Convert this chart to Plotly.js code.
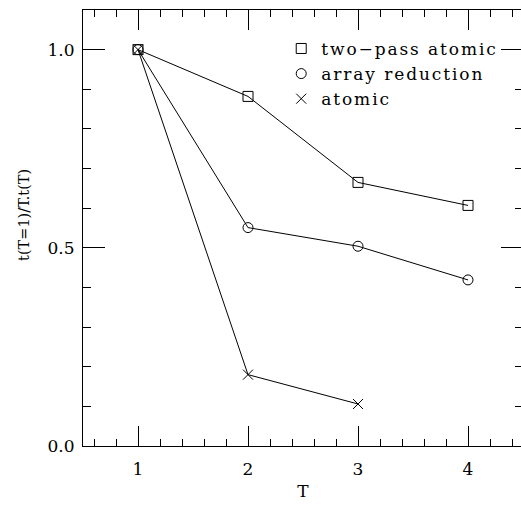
<!DOCTYPE html>
<html><head><meta charset="utf-8">
<script src="https://cdn.plot.ly/plotly-3.0.1.min.js"></script>
<style>html,body{margin:0;padding:0;overflow:hidden;background:#fff}#chart{width:524px;height:507px}
.legendtext{letter-spacing:1.9px}</style>
</head><body><div id="chart"></div>
<script>
const T = [1, 2, 3, 4];
const T_atomic = [1, 2, 3];
const twoPass = [1.0, 0.882, 0.665, 0.607];
const arrayRed = [1.0, 0.551, 0.504, 0.419];
const atomic = [1.0, 0.180, 0.106];
const names = ["two\u2212pass atomic", "array reduction", "atomic"];
const yTicks = [0, 0.5, 1.0];
const yTickText = ["0.0", "0.5", "1.0"];
const xTicks = [1, 2, 3, 4];
const xTitle = "T";
const yTitle = "t(T=1)/T.t(T)";

const FONT = "DejaVu Serif";
const series = [
  {x: T, y: twoPass, sym: "square-open", size: 10},
  {x: T, y: arrayRed, sym: "circle-open", size: 10},
  {x: T_atomic, y: atomic, sym: "x-thin-open", size: 10}
];
const traces = [];
series.forEach((s, i) => {
  traces.push({x: s.x, y: s.y, mode: "lines", line: {color: "#000", width: 1}, showlegend: false, hoverinfo: "skip"});
  traces.push({x: s.x, y: s.y, mode: "markers", name: names[i],
    marker: {symbol: s.sym, size: s.size, color: "#000", line: {color: "#000", width: 1}}});
});

const axisCommon = {
  showline: true, linecolor: "#000", linewidth: 1, mirror: "ticks",
  ticks: "inside", tickcolor: "#000", tickwidth: 1,
  showgrid: false, zeroline: false,
  tickfont: {family: FONT, size: 17, color: "#000"}
};
const layout = {
  width: 524, height: 507,
  margin: {l: 83, r: 1, t: 10, b: 61},
  paper_bgcolor: "#fff", plot_bgcolor: "#fff",
  font: {family: FONT, color: "#000"},
  xaxis: Object.assign({}, axisCommon, {
    range: [0.5, 4.5], tickvals: xTicks, ticklen: 20, ticklabelstandoff: 8,
    minor: {dtick: 0.2, tick0: 0, ticklen: 7, ticks: "inside", tickcolor: "#000", tickwidth: 1, showgrid: false},
    title: {text: xTitle, font: {family: FONT, size: 17, color: "#000"}, standoff: 6}
  }),
  yaxis: Object.assign({}, axisCommon, {
    range: [0, 1.1], tickvals: yTicks, ticktext: yTickText, ticklen: 22, ticklabelstandoff: 4,
    minor: {dtick: 0.1, tick0: 0, ticklen: 8, ticks: "inside", tickcolor: "#000", tickwidth: 1, showgrid: false}
  }),
  annotations: [{
    text: yTitle, textangle: -90, xref: "paper", yref: "paper", x: 0, y: 0.53,
    xanchor: "center", yanchor: "middle", xshift: -59, showarrow: false,
    font: {family: FONT, size: 14.5, color: "#000"}
  }],
  legend: {x: 0.4505, y: 0.952, xanchor: "left", yanchor: "top", bgcolor: "rgba(0,0,0,0)",
    font: {family: FONT, size: 17, color: "#000"}, tracegroupgap: 0},
  showlegend: true
};
Plotly.newPlot("chart", traces, layout, {staticPlot: true, displayModeBar: false});
</script></body></html>
